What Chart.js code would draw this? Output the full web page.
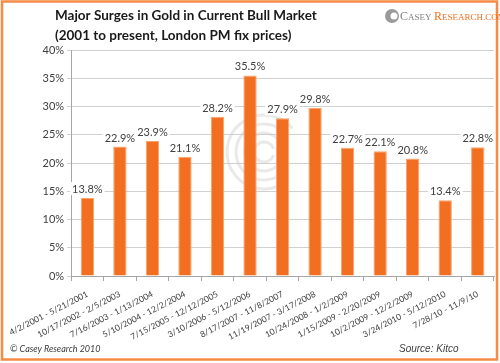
<!DOCTYPE html>
<html>
<head>
<meta charset="utf-8">
<script src="https://cdn.jsdelivr.net/npm/chart.js@4/dist/chart.umd.min.js"></script>
<style>
  html, body { margin: 0; padding: 0; background: #fff; }
  #wrap { width: 500px; height: 363px; position: relative; }
</style>
</head>
<body>
<div id="wrap"><canvas id="goldChart" width="500" height="363"></canvas></div>
<script>
const periodos = [
    "4/2/2001 - 5/21/2001", "10/17/2002 - 2/5/2003", "7/16/2003 - 1/13/2004",
    "5/10/2004 - 12/2/2004", "7/15/2005 - 12/12/2005", "3/10/2006 - 5/12/2006",
    "8/17/2007 - 11/8/2007", "11/19/2007 - 3/17/2008", "10/24/2008 - 1/2/2009",
    "1/15/2009 - 2/20/2009", "10/2/2009 - 12/2/2009", "3/24/2010 - 5/12/2010",
    "7/28/10 - 11/9/10"
];
const subidas = [13.8, 22.9, 23.9, 21.1, 28.2, 35.5, 27.9, 29.8, 22.7, 22.1, 20.8, 13.4, 22.8];
const titulo = ["Major Surges in Gold in Current Bull Market", "(2001 to present, London PM fix prices)"];
const fuente = "Source: Kitco";
const copyright = "\u00A9 Casey Research 2010";

const FONT = "Lato, 'Open Sans', sans-serif";

// marco, titulo, logo y pie
const decoracion = {
    id: "decoracion",
    beforeDraw(chart) {
        const c = chart.ctx;
        c.save();
        c.fillStyle = "#fff";
        c.fillRect(0, 0, chart.width, chart.height);
        c.restore();
    },
    beforeDatasetsDraw(chart) {
        // marca de agua
        const c = chart.ctx;
        const cx = 264, cy = 152;
        c.save();
        c.strokeStyle = "rgba(200,200,200,0.4)";
        c.lineWidth = 3;
        [10, 19, 28, 37].forEach((r, i) => {
            c.beginPath();
            c.arc(cx, cy, r, Math.PI * (0.1 + i * 0.06), Math.PI * (1.9 - i * 0.04));
            c.stroke();
        });
        c.restore();
    },
    afterDraw(chart) {
        const c = chart.ctx;
        c.save();
        c.strokeStyle = "#F58B45";
        c.lineWidth = 2.5;
        c.strokeRect(2, 1.5, 495, 358);

        c.fillStyle = "#1a1a1a";
        c.font = "bold 13.5px " + FONT;
        c.textBaseline = "alphabetic";
        c.fillText(titulo[0], 55, 20);
        c.fillText(titulo[1], 55, 40);

        // logo
        c.fillStyle = "#9a9a9a";
        c.beginPath();
        c.arc(392, 16, 7, 0, Math.PI * 2);
        c.fill();
        c.fillStyle = "#fff";
        c.beginPath();
        c.arc(394, 16, 3.5, 0, Math.PI * 2);
        c.fill();
        c.fillStyle = "#7f7f7f";
        c.font = "12px 'Liberation Serif', serif";
        c.fillText("C", 400, 20);
        c.font = "9px 'Liberation Serif', serif";
        c.fillText("ASEY", 408, 20);
        c.fillStyle = "#F26F21";
        c.font = "12px 'Liberation Serif', serif";
        c.fillText("R", 434, 20);
        c.font = "9px 'Liberation Serif', serif";
        c.fillText("ESEARCH.COM", 442, 20);

        c.fillStyle = "#404040";
        c.font = "italic 9px " + FONT;
        c.fillText(copyright, 10, 352);
        c.font = "italic 10px 'Liberation Sans', sans-serif";
        c.fillText(fuente, 399, 352);
        c.restore();
    }
};

// etiquetas de valor sobre cada barra
const etiquetas = {
    id: "etiquetas",
    afterDatasetsDraw(chart) {
        const c = chart.ctx;
        const meta = chart.getDatasetMeta(0);
        c.save();
        c.font = "11px " + FONT;
        c.textAlign = "center";
        c.textBaseline = "bottom";
        meta.data.forEach((bar, i) => {
            const txt = subidas[i].toFixed(1) + "%";
            const w = c.measureText(txt).width;
            const y = bar.y - 3;
            c.fillStyle = "#fff";
            c.fillRect(bar.x - w / 2 - 2, y - 13, w + 4, 13);
            c.fillStyle = "#404040";
            c.fillText(txt, bar.x, y);
        });
        c.restore();
    }
};

new Chart(document.getElementById("goldChart"), {
    type: "bar",
    data: {
        labels: periodos,
        datasets: [{
            data: subidas,
            backgroundColor: "#F26F21",
            borderColor: "#F8A46C",
            borderWidth: 1,
            barPercentage: 0.82,
            categoryPercentage: 0.5
        }]
    },
    options: {
        responsive: false,
        animation: false,
        devicePixelRatio: 1,
        layout: { padding: { top: 50, right: 6, left: 0, bottom: 0 } },
        plugins: {
            legend: { display: false },
            tooltip: { enabled: false }
        },
        scales: {
            x: {
                offset: true,
                grid: { display: true, drawOnChartArea: false, offset: true, tickLength: 5, color: "#a6a6a6" },
                border: { color: "#a6a6a6" },
                ticks: {
                    color: "#404040",
                    font: { family: FONT, size: 8.5 },
                    maxRotation: 27,
                    minRotation: 27,
                    padding: 8,
                    autoSkip: false
                },
                afterFit(scale) { scale.height = 87; }
            },
            y: {
                min: 0,
                max: 40,
                ticks: {
                    stepSize: 5,
                    color: "#404040",
                    font: { family: FONT, size: 11 },
                    padding: 3,
                    callback: v => v + "%"
                },
                grid: { color: "#d0d0d0", tickLength: 4 },
                border: { color: "#a6a6a6" },
                afterFit(scale) { scale.width = 49; }
            }
        }
    },
    plugins: [decoracion, etiquetas]
});
</script>
</body>
</html>
